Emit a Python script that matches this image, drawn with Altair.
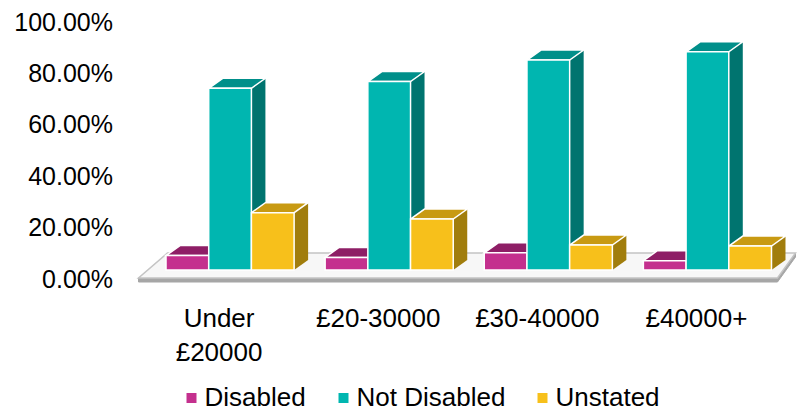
import altair as alt
import pandas as pd

# ---- data ----
categories = ["Under £20000", "£20-30000", "£30-40000", "£40000+"]
series = ["Disabled", "Not Disabled", "Unstated"]
disabled = [0.056, 0.049, 0.067, 0.036]
not_disabled = [0.707, 0.733, 0.817, 0.849]
unstated = [0.223, 0.198, 0.097, 0.093]
y_ticks = [0.0, 0.2, 0.4, 0.6, 0.8, 1.0]

rows = []
for i, c in enumerate(categories):
    for s, vals in zip(series, [disabled, not_disabled, unstated]):
        rows.append({"cat": c, "series": s, "value": vals[i]})
df = pd.DataFrame(rows)

# ---- styles ----
FONT = "Liberation Sans"
front_colors = ["#C4308E", "#00B6B0", "#F7C01B"]
top_colors = ["#8E1E66", "#008F8A", "#C89A12"]
side_colors = ["#7A1757", "#00746F", "#A17D0C"]

W, H = 636.5, 257
P_IN, P_OUT = 0.195, 0.0975
step = W / (len(categories) - P_IN + 2 * P_OUT)
bw = step * (1 - P_IN) / len(series)
h = bw / 2
DX, DY = 14, 10

top_path = f"M {-h:.2f} 0 L {h:.2f} 0 L {h+DX:.2f} {-DY} L {-h+DX:.2f} {-DY} Z"
tri_path = f"M {h:.2f} {-DY} L {h+DX:.2f} {-DY} L {h:.2f} 0 Z"
floor_top = "M -12 8 L 627 8 L 645 -17 L 17 -17 Z"
floor_edge = "M -12 8 L 627 8 L 645 -17 L 645 -13 L 627 12 L -12 12 Z"

xscale = alt.Scale(type="band", paddingInner=P_IN, paddingOuter=P_OUT)
xaxis = alt.Axis(title=None, labelExpr="split(datum.label, ' ')", labelFontSize=26,
                 labelFont=FONT, labelColor="black", labelOffset=-11, labelPadding=35,
                 ticks=False, tickSize=0, domain=False, labelAngle=0, labelLineHeight=34,
                 labelOverlap=False, grid=False)
yscale = alt.Scale(domain=[0, 1], nice=False, zero=True)
yaxis = alt.Axis(title=None, format=".2%", values=y_ticks, labelFontSize=25, labelFont=FONT,
                 labelColor="black", labelOffset=9, labelPadding=38, ticks=False, tickSize=0,
                 domain=False, grid=False)

X = alt.X("cat:N", sort=categories, scale=xscale, axis=xaxis)
XO = alt.XOffset("series:N", sort=series, scale=alt.Scale(type="band", paddingInner=0, paddingOuter=0))
# side faces: positions at the right edge of each bar
XO_R = alt.XOffset("series:N", sort=series, scale=alt.Scale(type="point", padding=0.5, align=1))
Y = alt.Y("value:Q", stack=None, scale=yscale, axis=yaxis)
Y0 = alt.Y(datum=0, type="quantitative", scale=yscale, axis=yaxis)


def col(rng, legend=None):
    return alt.Color("series:N", sort=series, scale=alt.Scale(domain=series, range=rng), legend=legend)


base = alt.Chart(df)
one = alt.Chart(pd.DataFrame({"k": [0]}))

floor_edge_l = one.mark_point(shape=floor_edge, size=4, filled=True, fill="#a6a6a6",
                              stroke="#a6a6a6", strokeWidth=1, opacity=1).encode(x=alt.value(0), y=Y0)
floor_top_l = one.mark_point(shape=floor_top, size=4, filled=True, fill="#f7f7f7",
                             stroke="#c4c4c4", strokeWidth=1.5, opacity=1).encode(x=alt.value(0), y=Y0)

side = base.mark_bar(width=2 * DX, yOffset=-DY, y2Offset=-DY).encode(
    x=X, xOffset=XO_R, y=Y, y2=alt.Y2(datum=0), color=col(side_colors))
side_tri = base.mark_point(shape=tri_path, size=4, filled=True, opacity=1, strokeWidth=0).encode(
    x=X, xOffset=XO, y=Y0, color=col(side_colors))
tops = base.mark_point(shape=top_path, size=4, filled=True, opacity=1, stroke="white",
                       strokeWidth=1.5).encode(
    x=X, xOffset=XO, y=Y, fill=alt.Fill("series:N", sort=series,
                                        scale=alt.Scale(domain=series, range=top_colors), legend=None))
legend = alt.Legend(title=None, orient="none", legendX=28, legendY=372, direction="horizontal",
                    symbolType="square", symbolSize=100, labelFontSize=26, labelFont=FONT,
                    labelColor="black", columnPadding=24, labelOffset=0, symbolStrokeWidth=0)
fronts = base.mark_bar(stroke="white", strokeWidth=1.5).encode(
    x=X, xOffset=XO, y=Y, color=col(front_colors, legend))

chart = alt.layer(floor_edge_l, floor_top_l, side, side_tri, tops, fronts).resolve_scale(
    color="independent", fill="independent", xOffset="independent"
).properties(
    width=W, height=H, autosize="none",
    padding={"left": 150.5, "top": 13, "right": 19, "bottom": 144},
    background="white"
).configure_view(stroke=None)

chart.save("out.html", embed_options={"renderer": "svg", "actions": False})
